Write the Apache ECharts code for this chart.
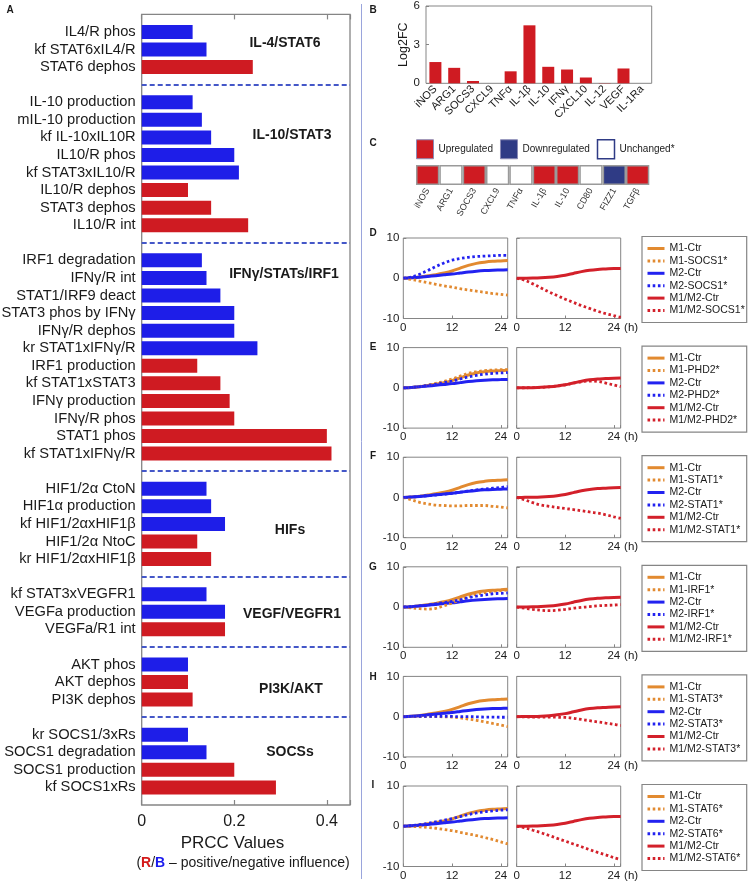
<!DOCTYPE html>
<html><head><meta charset="utf-8">
<script src="https://cdn.jsdelivr.net/npm/echarts@6/dist/echarts.min.js"></script>
<style>html,body{margin:0;padding:0;background:#fff}#c{width:749px;height:885px}</style>
</head><body><div id="c"></div>
<script>
// ---------- Panel A: PRCC sensitivity ----------
const paramNames = [
 'IL4/R phos','kf STAT6xIL4/R','STAT6 dephos',
 'IL-10 production','mIL-10 production','kf IL-10xIL10R','IL10/R phos','kf STAT3xIL10/R','IL10/R dephos','STAT3 dephos','IL10/R int',
 'IRF1 degradation','IFNγ/R int','STAT1/IRF9 deact','STAT3 phos by IFNγ','IFNγ/R dephos','kr STAT1xIFNγ/R','IRF1 production','kf STAT1xSTAT3','IFNγ production','IFNγ/R phos','STAT1 phos','kf STAT1xIFNγ/R',
 'HIF1/2α CtoN','HIF1α production','kf HIF1/2αxHIF1β','HIF1/2α NtoC','kr HIF1/2αxHIF1β',
 'kf STAT3xVEGFR1','VEGFa production','VEGFa/R1 int',
 'AKT phos','AKT dephos','PI3K dephos',
 'kr SOCS1/3xRs','SOCS1 degradation','SOCS1 production','kf SOCS1xRs'];
const prccValues = [0.11,0.14,0.24, 0.11,0.13,0.15,0.20,0.21,0.10,0.15,0.23,
 0.13,0.14,0.17,0.20,0.20,0.25,0.12,0.17,0.19,0.20,0.40,0.41,
 0.14,0.15,0.18,0.12,0.15, 0.14,0.18,0.18, 0.10,0.10,0.11, 0.10,0.14,0.20,0.29];
const influence = ['N','N','P', 'N','N','N','N','N','P','P','P',
 'N','N','N','N','N','N','P','P','P','P','P','P',
 'N','N','N','P','P', 'N','N','P', 'N','P','P', 'N','N','P','P'];
const groupSizes = [3,8,12,5,3,3,4];
const groupLabels = ['IL-4/STAT6','IL-10/STAT3','IFNγ/STATs/IRF1','HIFs','VEGF/VEGFR1','PI3K/AKT','SOCSs'];
const prccTicks = [0, 0.2, 0.4];

// ---------- Panel B: Log2FC ----------
const fcGenes = ['iNOS','ARG1','SOCS3','CXCL9','TNFα','IL-1β','IL-10','IFNγ','CXCL10','IL-12','VEGF','IL-1Ra'];
const fcValues = [1.65,1.2,0.18,0,0.93,4.5,1.28,1.07,0.45,0.02,1.15,0];

// ---------- Panel C: regulation ----------
const regGenes = ['iNOS','ARG1','SOCS3','CXCL9','TNFα','IL-1β','IL-10','CD80','FIZZ1','TGFβ'];
const regStatus = ['Up','Unchanged','Up','Unchanged','Unchanged','Up','Up','Unchanged','Down','Up'];

// ---------- Panels D-I: time courses ----------
const timeH = [0,2,4,6,8,10,12,14,16,18,20,22,24,25.7];
const m1Ctr   = [0,0.1,0.3,0.6,0.9,1.3,1.8,2.5,3.2,3.7,4.0,4.2,4.3,4.4];
const m2Ctr   = [0,0.1,0.25,0.45,0.65,0.85,1.05,1.3,1.55,1.75,1.9,2.0,2.05,2.1];
const m1m2Ctr = [0,0.02,0.05,0.12,0.25,0.45,0.75,1.2,1.65,2.0,2.2,2.3,2.4,2.45];

const m1SOCS1   = [0,-0.3,-0.7,-1.1,-1.5,-1.9,-2.2,-2.6,-2.9,-3.2,-3.5,-3.8,-4.0,-4.2];
const m2SOCS1   = [0,0.3,1.0,1.9,2.9,3.8,4.5,4.9,5.2,5.4,5.5,5.6,5.7,5.7];
const m1m2SOCS1 = [0,-0.5,-1.4,-2.4,-3.4,-4.3,-5.2,-6.0,-6.8,-7.5,-8.2,-8.8,-9.3,-9.7];

const m1PHD2   = [0,0.1,0.35,0.7,1.1,1.6,2.2,2.9,3.6,4.0,4.3,4.4,4.5,4.5];
const m2PHD2   = [0,0.1,0.3,0.6,0.9,1.3,1.7,2.2,2.7,3.1,3.4,3.6,3.7,3.8];
const m1m2PHD2 = [0,0.02,0.05,0.12,0.25,0.45,0.75,1.15,1.5,1.7,1.6,1.2,0.7,0.3];

const m1STAT1   = [0,-0.6,-1.2,-1.6,-1.9,-2.0,-2.1,-2.1,-2.0,-2.0,-2.0,-2.2,-2.4,-2.6];
const m2STAT1   = [0,0.1,0.25,0.45,0.6,0.8,1.0,1.3,1.6,1.9,2.1,2.3,2.5,2.7];
const m1m2STAT1 = [0,-0.6,-1.3,-1.9,-2.2,-2.5,-2.75,-3.0,-3.3,-3.6,-3.9,-4.3,-4.8,-5.2];

const m1IRF1   = [0,-0.2,-0.4,-0.5,-0.3,0.3,1.0,1.8,2.6,3.2,3.6,3.9,4.1,4.2];
const m2IRF1   = [0,0.1,0.3,0.5,0.8,1.1,1.4,1.8,2.3,2.7,3.0,3.3,3.4,3.5];
const m1m2IRF1 = [0,-0.3,-0.6,-0.8,-0.9,-0.8,-0.6,-0.3,-0.1,0.1,0.3,0.4,0.5,0.6];

const m1STAT3   = [0,0,0,0,0,-0.05,-0.1,-0.3,-0.6,-0.9,-1.3,-1.7,-2.1,-2.5];
const m2STAT3   = [0,0.05,0.1,0.1,0.1,0.1,0.05,0,0,-0.05,-0.1,-0.1,-0.15,-0.15];
const m1m2STAT3 = [0,-0.05,-0.1,-0.1,-0.1,-0.15,-0.2,-0.4,-0.7,-1.0,-1.3,-1.6,-1.9,-2.2];

const m1STAT6   = [0,-0.05,-0.15,-0.3,-0.5,-0.8,-1.1,-1.5,-1.9,-2.3,-2.8,-3.3,-3.9,-4.4];
const m2STAT6   = [0,0.15,0.4,0.7,1.1,1.5,1.9,2.4,2.9,3.3,3.6,3.8,4.0,4.1];
const m1m2STAT6 = [0,-0.4,-1.0,-1.6,-2.3,-3.0,-3.7,-4.4,-5.1,-5.8,-6.5,-7.1,-7.8,-8.3];

const perturbations = ['SOCS1','PHD2','STAT1','IRF1','STAT3','STAT6'];
const m1Pert = [m1SOCS1,m1PHD2,m1STAT1,m1IRF1,m1STAT3,m1STAT6];
const m2Pert = [m2SOCS1,m2PHD2,m2STAT1,m2IRF1,m2STAT3,m2STAT6];
const m1m2Pert = [m1m2SOCS1,m1m2PHD2,m1m2STAT1,m1m2IRF1,m1m2STAT3,m1m2STAT6];
const panelLetters = ['D','E','F','G','H','I'];

// ---------- build ----------
const FF = 'Liberation Sans, Arial, Helvetica, sans-serif';
const RED = '#cf1b22', BLUE = '#1e1ee8', ORANGE = '#e28a30', LBLUE = '#2222f0', LRED = '#d3202a', NAVY = '#2f3b85';
const FRAME = '#858585', TXT = '#1a1a1a';

const chart = echarts.init(document.getElementById('c'), null, {renderer:'canvas'});

const catA = [' '], posA = ['-'], negA = ['-'], sepIdx = [];
let k = 0;
groupSizes.forEach((n, g) => {
  if (g > 0) { sepIdx.push(catA.length); catA.push(' '.repeat(g + 1)); posA.push('-'); negA.push('-'); }
  for (let j = 0; j < n; j++, k++) {
    catA.push(paramNames[k]);
    posA.push(influence[k] === 'P' ? prccValues[k] : '-');
    negA.push(influence[k] === 'N' ? prccValues[k] : '-');
  }
});
catA.push(' '.repeat(12)); posA.push('-'); negA.push('-');

const grids = [], xAxes = [], yAxes = [], series = [], legends = [], graphics = [];

// Panel A
grids.push({left:141.7, top:14.4, width:208.3, height:790.6, show:true, borderColor:FRAME, borderWidth:1.3, backgroundColor:'transparent', outerBoundsMode:'none', containLabel:false});
const fmtA = v => prccTicks.some(t => Math.abs(t - v) < 1e-9) ? String(+v.toFixed(2)) : '';
xAxes.push({type:'value', gridIndex:0, min:0, max:0.45, interval:0.2, position:'bottom',
  axisLine:{show:false, onZero:false}, splitLine:{show:false},
  axisTick:{show:true, inside:true, length:5, lineStyle:{color:FRAME, width:1.2}},
  axisLabel:{fontSize:16, color:TXT, margin:9, formatter:fmtA, fontFamily:FF}});
xAxes.push({type:'value', gridIndex:0, min:0, max:0.45, interval:0.2, position:'top',
  axisLine:{show:false, onZero:false}, splitLine:{show:false}, axisLabel:{show:false},
  axisTick:{show:true, inside:true, length:5, lineStyle:{color:FRAME, width:1.2}}});
yAxes.push({type:'category', gridIndex:0, data:catA, inverse:true, boundaryGap:false,
  axisLine:{show:false, onZero:false}, axisTick:{show:false}, splitLine:{show:false},
  axisLabel:{interval:0, fontSize:14.7, color:TXT, margin:6, fontFamily:FF}});
series.push({type:'bar', name:'Positive', xAxisIndex:0, yAxisIndex:0, data:posA, barWidth:14, barGap:'-100%',
  itemStyle:{color:RED}, silent:true,
  markLine:{silent:true, symbol:'none', label:{show:false},
    lineStyle:{color:'#4457c8', type:[5,3], width:1.8},
    data: sepIdx.map(i => ({yAxis:i}))}});
series.push({type:'bar', name:'Negative', xAxisIndex:0, yAxisIndex:0, data:negA, barWidth:14, barGap:'-100%',
  itemStyle:{color:BLUE}, silent:true});

// Panel B
grids.push({left:426, top:6, width:225.7, height:77.3, show:true, borderColor:FRAME, borderWidth:1, backgroundColor:'transparent', outerBoundsMode:'none'});
xAxes.push({type:'category', gridIndex:1, data:fcGenes, axisLine:{show:false, onZero:false}, axisTick:{show:false},
  axisLabel:{interval:0, rotate:45, fontSize:11, color:TXT, margin:4, fontFamily:FF}});
yAxes.push({type:'value', gridIndex:1, min:0, max:6, interval:3, axisLine:{show:false, onZero:false}, splitLine:{show:false},
  axisTick:{show:true, inside:true, length:3, lineStyle:{color:FRAME}},
  axisLabel:{fontSize:11.5, color:TXT, margin:6, fontFamily:FF},
  name:'Log2FC', nameLocation:'middle', nameGap:14, nameRotate:90,
  nameTextStyle:{fontSize:12.5, color:TXT, fontFamily:FF}});
series.push({type:'bar', name:'Log2FC', xAxisIndex:2, yAxisIndex:1, data:fcValues, barWidth:12, itemStyle:{color:RED}, silent:true});

// Panel C
grids.push({left:416, top:165, width:233.3, height:20, show:false, outerBoundsMode:'none'});
xAxes.push({type:'category', gridIndex:2, data:regGenes, axisLine:{show:false, onZero:false}, axisTick:{show:false},
  axisLabel:{interval:0, rotate:60, fontSize:9, color:'#333', margin:4, fontFamily:FF}});
yAxes.push({type:'value', gridIndex:2, min:0, max:1, show:false});
const regDefs = [['Upregulated','Up',RED],['Downregulated','Down',NAVY],['Unchanged*','Unchanged','#ffffff']];
regDefs.forEach(([nm, key, col]) => {
  series.push({type:'bar', name:nm, xAxisIndex:3, yAxisIndex:2, barCategoryGap:0, barGap:'-100%',
    data: regStatus.map(s => s === key ? 1 : '-'),
    itemStyle:{color:col, borderColor:'#9a9a9a', borderWidth:1.5}, silent:true});
});
legends.push({orient:'horizontal', left:416, top:139, padding:0, itemWidth:17, itemHeight:19, itemGap:7, icon:'rect',
  selectedMode:false, textStyle:{fontSize:10, color:TXT, fontFamily:FF},
  data:[{name:'Upregulated', itemStyle:{color:RED, borderColor:'#8a8ab5', borderWidth:1}},
        {name:'Downregulated', itemStyle:{color:NAVY, borderColor:'#8a8ab5', borderWidth:1}},
        {name:'Unchanged*', itemStyle:{color:'#ffffff', borderColor:NAVY, borderWidth:1.5}}]});

// Panels D-I
const pts = arr => timeH.map((t, i) => [t, arr[i]]);
const fmtT = v => (Math.abs(v % 12) < 1e-9 ? String(v) : '');
perturbations.forEach((p, i) => {
  const top = 238 + i * 109.6;
  const gL = grids.length, gR = gL + 1;
  grids.push({left:403.3, top:top, width:104.4, height:80.5, show:true, borderColor:FRAME, borderWidth:1, backgroundColor:'transparent', outerBoundsMode:'none'});
  grids.push({left:516.7, top:top, width:104, height:80.5, show:true, borderColor:FRAME, borderWidth:1, backgroundColor:'transparent', outerBoundsMode:'none'});
  const xL = xAxes.length, yL = yAxes.length;
  [gL, gR].forEach((g, j) => {
    xAxes.push({type:'value', gridIndex:g, min:0, max:25.7, interval:12, position:'bottom',
      axisLine:{show:false, onZero:false}, splitLine:{show:false},
      axisTick:{show:true, inside:true, length:3, lineStyle:{color:FRAME}},
      axisLabel:{fontSize:11.5, color:TXT, margin:3, formatter:fmtT, fontFamily:FF},
      name: j === 1 ? '(h)' : '', nameLocation:'end', nameGap:1,
      nameTextStyle:{fontSize:11.5, color:TXT, verticalAlign:'top', padding:[3,0,0,0], fontFamily:FF}});
    yAxes.push({type:'value', gridIndex:g, min:-10, max:10, interval:10, position:'left',
      axisLine:{show:false, onZero:false}, splitLine:{show:false},
      axisTick:{show:true, inside:true, length:3, lineStyle:{color:FRAME}},
      axisLabel:{show: j === 0, fontSize:11.5, color:TXT, margin:4, fontFamily:FF}});
  });
  const mk = (name, arr, color, dotted, xi, yi, z) => ({type:'line', name, xAxisIndex:xi, yAxisIndex:yi, data:pts(arr),
    symbol:'none', showSymbol:false, smooth:0.35, silent:true, z:z,
    itemStyle:{color}, lineStyle:{color, width: dotted ? 2.8 : 3, type: dotted ? [2.6, 2.6] : 'solid'}});
  const names = ['M1-Ctr', 'M1-' + p + '*', 'M2-Ctr', 'M2-' + p + '*', 'M1/M2-Ctr', 'M1/M2-' + p + '*'];
  series.push(mk(names[0], m1Ctr, ORANGE, false, xL, yL, 2));
  series.push(mk(names[1], m1Pert[i], ORANGE, true, xL, yL, 3));
  series.push(mk(names[2], m2Ctr, LBLUE, false, xL, yL, 2));
  series.push(mk(names[3], m2Pert[i], LBLUE, true, xL, yL, 3));
  series.push(mk(names[4], m1m2Ctr, LRED, false, xL + 1, yL + 1, 2));
  series.push(mk(names[5], m1m2Pert[i], LRED, true, xL + 1, yL + 1, 3));
  legends.push({orient:'vertical', left:646, top:top + 4.5, padding:0, itemWidth:17, itemHeight:10, itemGap:0.4,
    selectedMode:false, itemStyle:{opacity:0, borderWidth:0}, lineStyle:{width:3},
    textStyle:{fontSize:10.5, lineHeight:12, color:TXT, fontFamily:FF}, data:names});
  graphics.push({type:'rect', shape:{x:642, y:top - 1.5, width:104.7, height:86}, style:{fill:'none', stroke:FRAME, lineWidth:1.2}, silent:true});
});

// texts / decorations
const txt = (x, y, text, size, weight, align, color) => ({type:'text', x, y, silent:true,
  style:{text, fontSize:size, fontWeight:weight || 'normal', fontFamily:FF, fill:color || TXT,
    align: align || 'center', textAlign: align || 'center', verticalAlign:'middle', textVerticalAlign:'middle'}});
graphics.push({type:'line', shape:{x1:361.5, y1:4, x2:361.5, y2:879}, style:{stroke:'#9aa5dc', lineWidth:1}, silent:true});
graphics.push(txt(10, 10, 'A', 10, 'bold'));
graphics.push(txt(373, 10, 'B', 10, 'bold'));
graphics.push(txt(373, 143, 'C', 10, 'bold'));
const letterY = [233, 347.7, 456.7, 567.7, 677.7, 785.7];
panelLetters.forEach((l, i) => graphics.push(txt(373, letterY[i], l, 10, 'bold')));
const groupPos = [[285,43],[292,135],[284,274],[290,530],[292,614],[291,689],[290,752]];
groupLabels.forEach((g, i) => graphics.push(txt(groupPos[i][0], groupPos[i][1], g, 14, 'bold')));
graphics.push(txt(232.5, 843, 'PRCC Values', 17));
graphics.push({type:'text', x:243, y:862.7, silent:true, style:{
  text:'({r|R}/{b|B} – positive/negative influence)', fontSize:14, fontFamily:FF, fill:TXT,
  align:'center', textAlign:'center', verticalAlign:'middle', textVerticalAlign:'middle',
  rich:{r:{fill:'#d41a1a', fontWeight:'bold', fontSize:14, fontFamily:FF}, b:{fill:'#1a1aee', fontWeight:'bold', fontSize:14, fontFamily:FF}}}});

chart.setOption({
  animation:false,
  backgroundColor:'#ffffff',
  textStyle:{fontFamily:FF},
  grid:grids, xAxis:xAxes, yAxis:yAxes, series:series, legend:legends,
  graphic:{elements:graphics}
});
</script></body></html>
